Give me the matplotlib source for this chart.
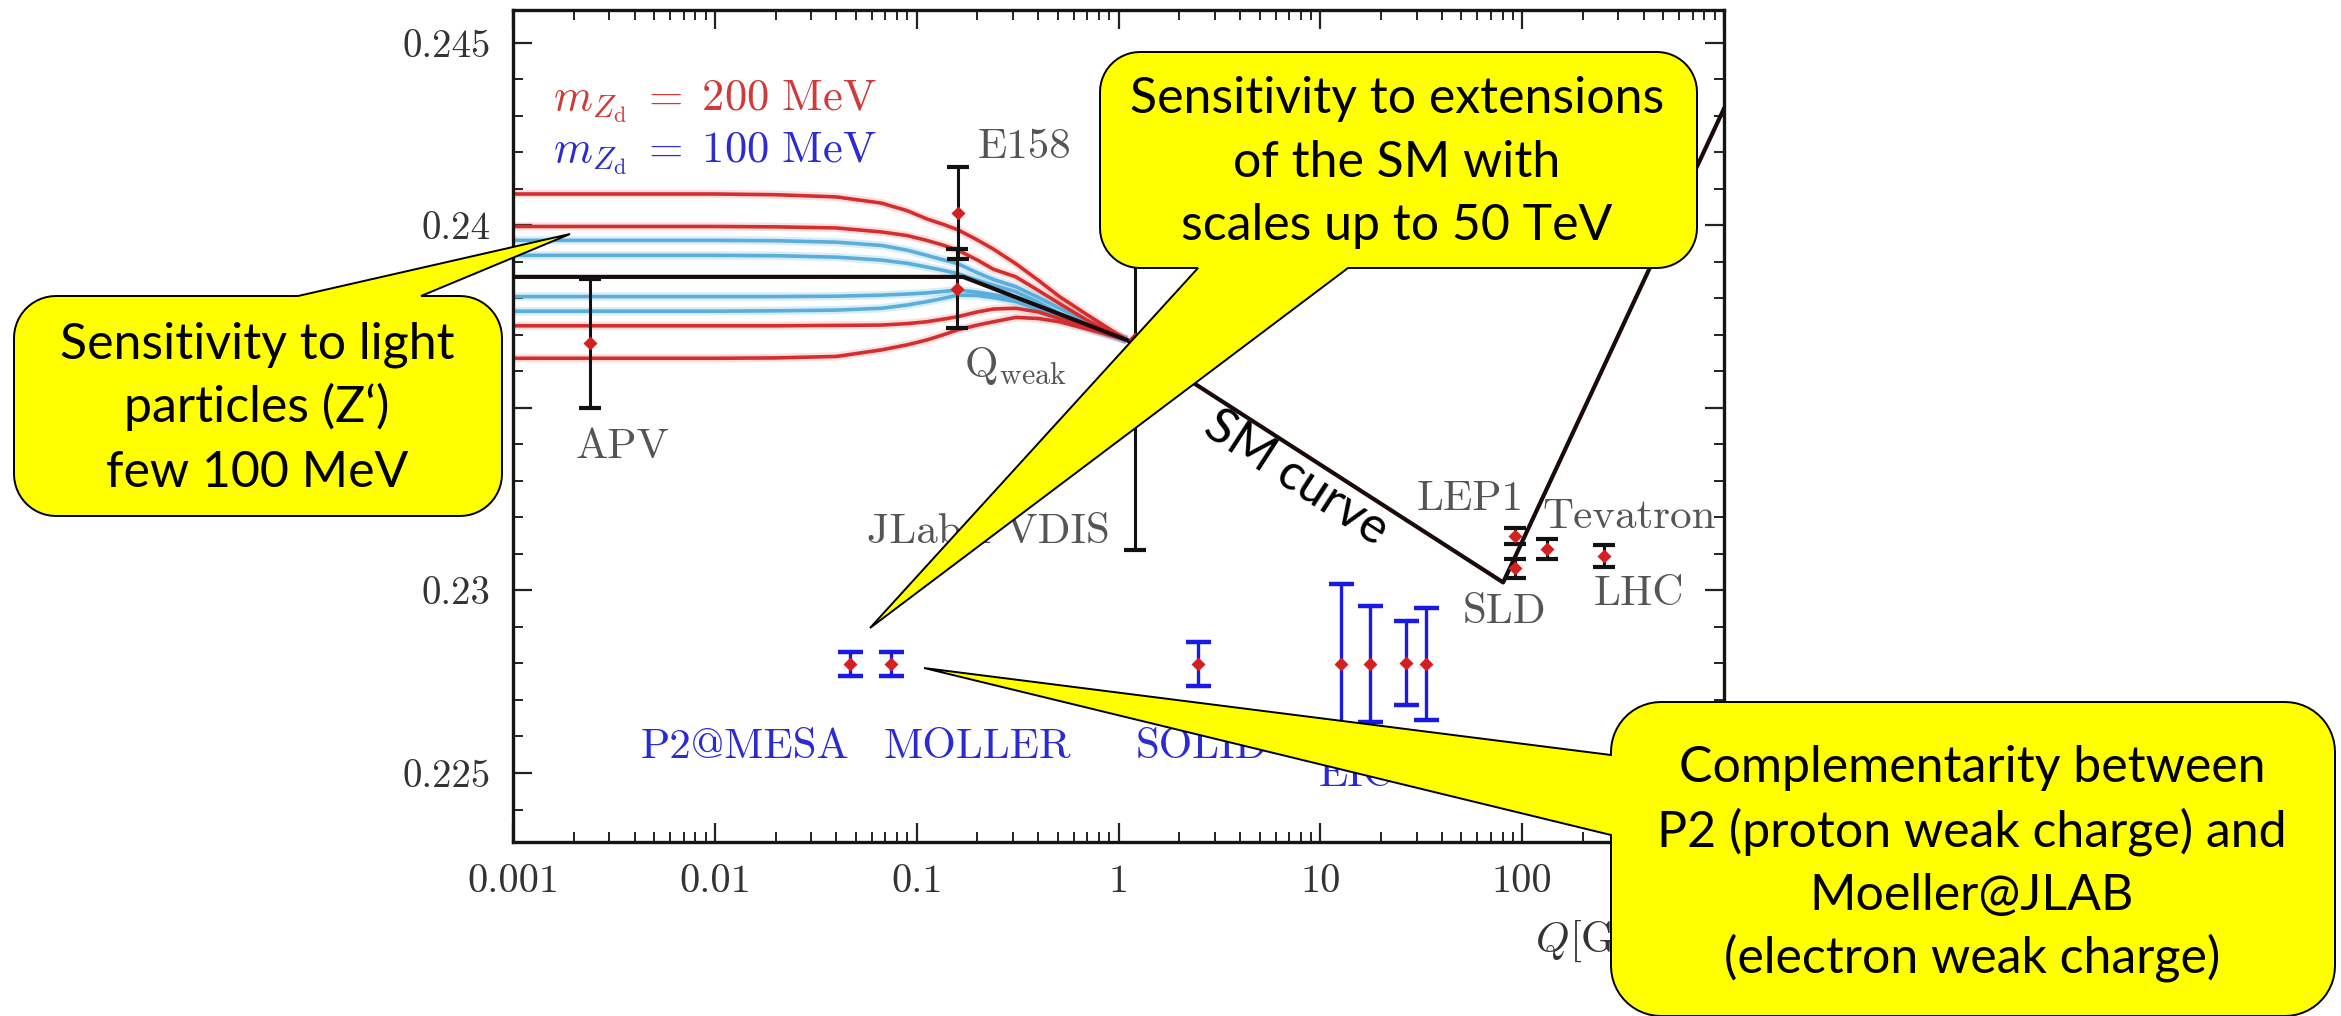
import numpy as np
import matplotlib
matplotlib.use('Agg')
import matplotlib.pyplot as plt
from matplotlib.path import Path
from matplotlib.patches import PathPatch
from matplotlib.ticker import FixedLocator, FixedFormatter, LogLocator, MultipleLocator, NullFormatter

plt.rcParams['mathtext.fontset'] = 'cm'

# ---------------- data ----------------
q_grid = [0.001, 0.01, 0.02, 0.04, 0.067, 0.09, 0.112, 0.135, 0.16, 0.2, 0.24, 0.31, 0.4, 0.51, 0.7, 1.1]
red_1 = [0.24086, 0.24086, 0.24084, 0.24078, 0.24061, 0.24040, 0.24018, 0.24003, 0.23988, 0.23960, 0.23935, 0.23895, 0.23850, 0.23805, 0.23755, 0.23686]
red_2 = [0.23997, 0.23997, 0.23996, 0.23993, 0.23982, 0.23972, 0.23959, 0.23946, 0.23932, 0.23905, 0.23880, 0.23859, 0.23822, 0.23786, 0.23740, 0.23686]
red_3 = [0.23725, 0.23725, 0.23725, 0.23726, 0.23727, 0.23731, 0.23736, 0.23743, 0.23750, 0.23763, 0.23771, 0.23773, 0.23763, 0.23745, 0.23722, 0.23686]
red_4 = [0.23636, 0.23636, 0.23637, 0.23641, 0.23659, 0.23673, 0.23686, 0.23700, 0.23714, 0.23727, 0.23736, 0.23748, 0.23745, 0.23736, 0.23716, 0.23686]
blue_1 = [0.23959, 0.23959, 0.23958, 0.23954, 0.23945, 0.23932, 0.23918, 0.23906, 0.23895, 0.23870, 0.23852, 0.23832, 0.23803, 0.23773, 0.23735, 0.23686]
blue_2 = [0.23918, 0.23918, 0.23917, 0.23913, 0.23905, 0.23896, 0.23886, 0.23877, 0.23868, 0.23850, 0.23836, 0.23818, 0.23790, 0.23759, 0.23728, 0.23686]
blue_3 = [0.23805, 0.23805, 0.23805, 0.23806, 0.23809, 0.23812, 0.23815, 0.23819, 0.23823, 0.23817, 0.23810, 0.23800, 0.23778, 0.23750, 0.23722, 0.23686]
blue_4 = [0.23765, 0.23765, 0.23766, 0.23768, 0.23773, 0.23782, 0.23791, 0.23800, 0.23809, 0.23808, 0.23802, 0.23791, 0.23770, 0.23745, 0.23718, 0.23686]

sm_q = [0.001, 0.17, 1.1, 80.5, 1000]
sm_s2w = [0.23859, 0.23859, 0.23686, 0.23022, 0.2432]

meas_names = ['APV', 'E158', 'Qweak', 'JLab PVDIS', 'LEP1', 'SLD', 'Tevatron', 'LHC']
meas_q = [0.0024, 0.161, 0.158, 1.21, 92, 92, 133, 255]
meas_val = [0.23677, 0.24034, 0.23827, 0.2369, 0.23149, 0.23061, 0.23113, 0.23094]
meas_err = [0.00176, 0.00127, 0.00107, 0.0058, 0.00022, 0.00026, 0.00028, 0.0003]

proj_names = ['P2@MESA', 'MOLLER', 'SOLID', 'EIC', 'EIC', 'EIC', 'EIC']
proj_q = [0.047, 0.075, 2.49, 12.6, 17.7, 26.7, 33.5]
proj_val = [0.22798, 0.22798, 0.22798, 0.22799, 0.22799, 0.22801, 0.22798]
proj_err = [0.00033, 0.00033, 0.0006, 0.0022, 0.00158, 0.00114, 0.00154]

x_tick_vals = [0.001, 0.01, 0.1, 1, 10, 100, 1000]
x_tick_labels = ['0.001', '0.01', '0.1', '1', '10', '100', '1000']
y_tick_vals = [0.225, 0.23, 0.235, 0.24, 0.245]
y_tick_labels = ['0.225', '0.23', '0.235', '0.24', '0.245']

# ---------------- figure ----------------
W, H = 2341, 1016
fig = plt.figure(figsize=(W / 100, H / 100), dpi=100)
ax = fig.add_axes([513 / W, 1 - 842 / H, (1724 - 513) / W, (842 - 10) / H])
ax.set_xscale('log')
ax.set_xlim(1e-3, 1e3)
ax.set_ylim(0.22311, 0.2459)

RED = '#d32f2f'
LBLUE = '#5aaedc'
for c in [red_1, red_2, red_3, red_4]:
    ax.plot(q_grid, c, color=RED, lw=6, alpha=0.15, zorder=2, solid_capstyle='butt')
    ax.plot(q_grid, c, color=RED, lw=2.6, zorder=2.2)
for c in [blue_1, blue_2, blue_3, blue_4]:
    ax.plot(q_grid, c, color=LBLUE, lw=6, alpha=0.22, zorder=2, solid_capstyle='butt')
    ax.plot(q_grid, c, color=LBLUE, lw=2.6, zorder=2.1)
ax.plot(sm_q, sm_s2w, color='#1a0a0a', lw=3.0, zorder=3)

ax.errorbar(meas_q, meas_val, yerr=meas_err, fmt='none', ecolor='#111111',
            elinewidth=2.2, capsize=8, capthick=3.0, zorder=4)
ax.plot(meas_q, meas_val, 'D', color='#d42020', ms=7, zorder=5, mec='none')
ax.errorbar(proj_q, proj_val, yerr=proj_err, fmt='none', ecolor='#1a1ae6',
            elinewidth=2.4, capsize=9, capthick=3.2, zorder=4)
ax.plot(proj_q, proj_val, 'D', color='#d42020', ms=7, zorder=5, mec='none')

# axes styling
ax.xaxis.set_major_locator(FixedLocator(x_tick_vals))
ax.xaxis.set_major_formatter(FixedFormatter(x_tick_labels))
ax.xaxis.set_minor_locator(LogLocator(base=10, subs=np.arange(2, 10)))
ax.xaxis.set_minor_formatter(NullFormatter())
ax.yaxis.set_major_locator(FixedLocator(y_tick_vals))
ax.yaxis.set_major_formatter(FixedFormatter(y_tick_labels))
ax.yaxis.set_minor_locator(MultipleLocator(0.001))
ax.tick_params(which='both', direction='in', top=True, right=True, color='#222222')
ax.tick_params(which='major', length=14, width=1.6)
ax.tick_params(which='minor', length=7, width=1.4)
ax.tick_params(axis='x', which='major', pad=16, labelsize=29, labelcolor='#333333')
ax.tick_params(axis='y', which='major', pad=16, labelsize=28, labelcolor='#333333')
for lab in ax.get_xticklabels() + ax.get_yticklabels():
    lab.set_fontfamily('cmr10')
for s in ax.spines.values():
    s.set_linewidth(2.4)
    s.set_color('#151515')

GRAY = '#555555'
PBLUE = '#2b2bd6'
cm = dict(fontfamily='cmr10', fontsize=31)
ax.text(0.0035, 0.23393, 'APV', color=GRAY, ha='center', va='center', **cm)
ax.text(0.343, 0.24215, 'E158', color=GRAY, ha='center', va='center', **cm)
ax.text(0.309, 0.23585, r'Q$_{\mathrm{weak}}$', color=GRAY, ha='center', va='baseline', **cm)
ax.text(0.902, 0.2313, 'JLab PVDIS', color=GRAY, ha='right', va='baseline', **cm)
ax.text(55.3, 0.23221, 'LEP1', color=GRAY, ha='center', va='baseline', **cm)
ax.text(339, 0.23172, 'Tevatron', color=GRAY, ha='center', va='baseline', **cm)
ax.text(81.5, 0.22911, 'SLD', color=GRAY, ha='center', va='baseline', **cm)
ax.text(379, 0.2296, 'LHC', color=GRAY, ha='center', va='baseline', **cm)
ax.text(0.0141, 0.22541, 'P2@MESA', color=PBLUE, ha='center', va='baseline', **cm)
ax.text(0.2004, 0.22541, 'MOLLER', color=PBLUE, ha='center', va='baseline', **cm)
ax.text(1.213, 0.22541, 'SOLID', color=PBLUE, ha='left', va='baseline', **cm)
ax.text(9.8, 0.22464, 'EIC', color=PBLUE, ha='left', va='baseline', **cm)
ax.text(0.00158, 0.24316, r'$m_{Z_{\rm d}}\;=\;200\ \mathrm{MeV}$', color='#d03a3a',
        ha='left', va='baseline', fontsize=32)
ax.text(0.00158, 0.24174, r'$m_{Z_{\rm d}}\;=\;100\ \mathrm{MeV}$', color='#2c2cd0',
        ha='left', va='baseline', fontsize=32)
ax.text((1535 - 513) / (1724 - 513), (842 - 952) / (842 - 10), r'$Q$[GeV]', color='#333333',
        transform=ax.transAxes, ha='left', va='baseline', clip_on=False, **cm)

# ---------------- callouts overlay (pixel coordinates) ----------------
ov = fig.add_axes([0, 0, 1, 1], zorder=10)
ov.set_xlim(0, W)
ov.set_ylim(H, 0)
ov.axis('off')
ov.patch.set_visible(False)


def callout(x0, y0, x1, y1, r, side, base, tip):
    def arc(cx, cy, a0, a1, n=14):
        t = np.radians(np.linspace(a0, a1, n))
        return list(zip(cx + r * np.cos(t), cy + r * np.sin(t)))
    pts = [(x0 + r, y0)]
    if side == 'top':
        b = sorted(base)
        pts += [(b[0], y0), tip, (b[1], y0)]
    pts.append((x1 - r, y0))
    pts += arc(x1 - r, y0 + r, -90, 0)
    pts.append((x1, y1 - r))
    pts += arc(x1 - r, y1 - r, 0, 90)
    if side == 'bottom':
        b = sorted(base, reverse=True)
        pts += [(b[0], y1), tip, (b[1], y1)]
    pts.append((x0 + r, y1))
    pts += arc(x0 + r, y1 - r, 90, 180)
    if side == 'left':
        b = sorted(base, reverse=True)
        pts += [(x0, b[0]), tip, (x0, b[1])]
    pts.append((x0, y0 + r))
    pts += arc(x0 + r, y0 + r, 180, 270)
    pts.append(pts[0])
    codes = [Path.MOVETO] + [Path.LINETO] * (len(pts) - 2) + [Path.CLOSEPOLY]
    ov.add_patch(PathPatch(Path(pts, codes), fc='#ffff00', ec='black', lw=1.4,
                           joinstyle='miter'))


callout(14, 296, 502, 516, 42, 'top', (298, 421), (570, 234))
callout(1100, 52, 1697, 268, 40, 'bottom', (1198, 1348), (870, 628))
callout(1611, 702, 2335, 1016, 50, 'left', (755, 835), (924, 668))

FONT = dict(fontfamily='Lato', fontsize=36, color='black', ha='center', va='baseline')
for txt, yb in zip(['Sensitivity to light', 'particles (Z\u2018)', 'few 100 MeV'], [358, 422, 487]):
    ov.text(257, yb, txt, **FONT)
for txt, yb in zip(['Sensitivity to extensions', 'of the SM with', 'scales up to 50 TeV'], [113, 177, 240]):
    ov.text(1397, yb, txt, **FONT)
for txt, yb in zip(['Complementarity between', 'P2 (proton weak charge) and', 'Moeller@JLAB',
                    '(electron weak charge)'], [782, 847, 910, 973]):
    ov.text(1972, yb, txt, **FONT)
ov.text(1296, 478, 'SM curve', fontfamily='Lato', fontsize=36, color='black',
        ha='center', va='center', rotation=-33, rotation_mode='anchor')

fig.savefig('out.png', dpi=100)
